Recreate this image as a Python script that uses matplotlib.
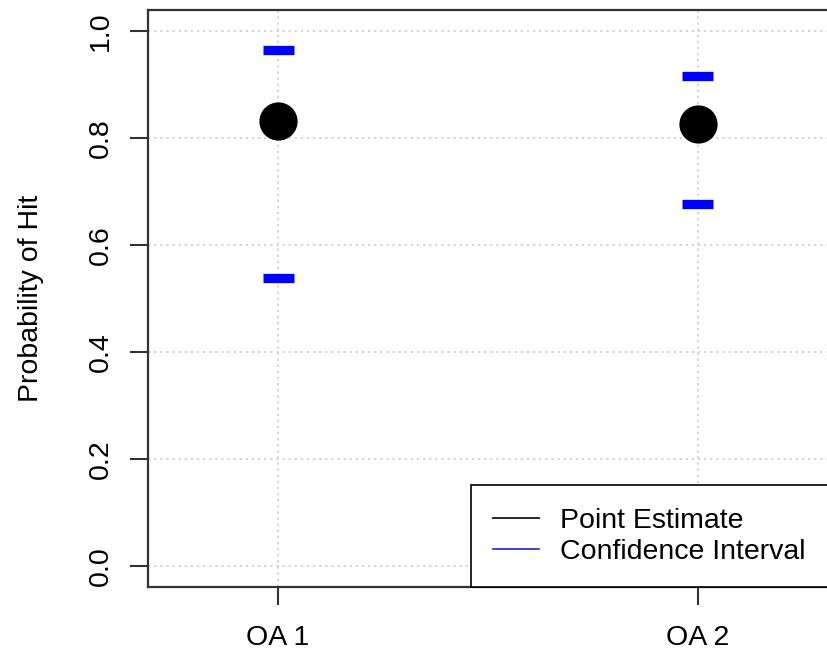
import matplotlib
matplotlib.use("Agg")
import matplotlib.pyplot as plt
from matplotlib.lines import Line2D

categories = ["OA 1", "OA 2"]
point_est = [0.833, 0.826]
ci_lower = [0.539, 0.678]
ci_upper = [0.966, 0.916]
yticks = [0.0, 0.2, 0.4, 0.6, 0.8, 1.0]

plt.rcParams['font.family'] = ['Liberation Sans', 'DejaVu Sans']
FS = 20.5

fig = plt.figure(figsize=(8.27, 6.5), dpi=100)
ax = fig.add_axes([148/827, (650-587.4)/650, 680/827, 577.4/650])

xs = list(range(1, len(categories) + 1))
ax.set_xlim(0.69, 2.31)
ax.set_ylim(-0.04, 1.04)

ax.grid(True, color='#c8c8c8', linestyle=(0, (1.5, 2.5)), linewidth=1.1)
ax.set_axisbelow(True)

ax.plot(xs, point_est, 'o', color='black', markersize=26.5, zorder=3)
half = 0.037
ax.hlines(ci_upper, [x - half for x in xs], [x + half for x in xs], colors='blue', linewidth=6.7, capstyle='butt', zorder=3)
ax.hlines(ci_lower, [x - half for x in xs], [x + half for x in xs], colors='blue', linewidth=6.7, capstyle='butt', zorder=3)

ax.set_xticks(xs)
ax.set_xticklabels(categories, fontsize=FS)
ax.set_yticks(yticks)
ax.set_yticklabels([f"{v:.1f}" for v in yticks], fontsize=FS, rotation=90, va='center')
ax.tick_params(axis='both', length=12.8, width=1.5, color='#333333', direction='out')
ax.tick_params(axis='x', pad=14)
ax.tick_params(axis='y', pad=12)
ax.set_ylabel("Probability of Hit", fontsize=FS)
ax.yaxis.set_label_coords((31 - 148) / 680, 0.5)
ax.yaxis.label.set_verticalalignment('center')

for sp in ax.spines.values():
    sp.set_color('#333333')
    sp.set_linewidth(1.6)
ax.spines['right'].set_visible(False)

handles = [Line2D([0], [0], color='black', lw=1.2), Line2D([0], [0], color='#2222cc', lw=1.2)]
leg = ax.legend(handles, ["Point Estimate", "Confidence Interval"], loc='lower right',
                bbox_to_anchor=(1.0, 0.0), borderaxespad=0, fancybox=False, fontsize=FS,
                handlelength=1.6, handletextpad=0.75, labelspacing=0.18, borderpad=0.79,
                framealpha=1)
leg.get_frame().set_edgecolor('black')
leg.get_frame().set_linewidth(1.2)

fig.savefig("out.png", dpi=100)
